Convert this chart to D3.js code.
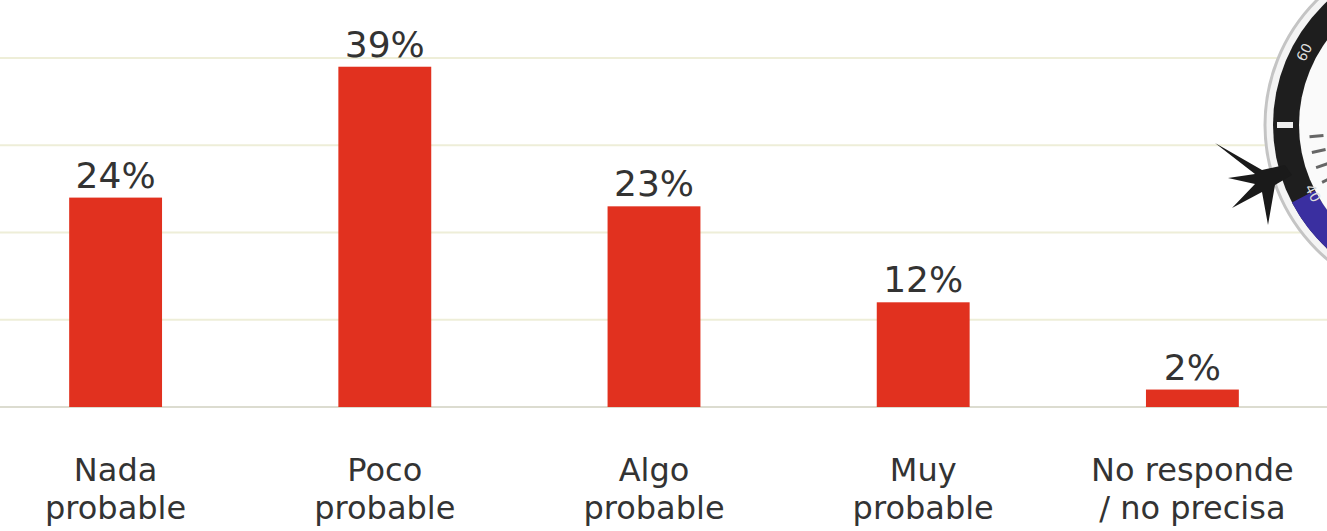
<!DOCTYPE html>
<html>
<head>
<meta charset="utf-8">
<script src="https://cdn.jsdelivr.net/npm/d3@7"></script>
<style>
  html, body { margin: 0; padding: 0; background: #fff; }
  text { font-family: "DejaVu Sans", Verdana, sans-serif; fill: #333; }
</style>
</head>
<body>
<div id="container"></div>
<script>
// Datos
const categories = ['Nada probable', 'Poco probable', 'Algo probable', 'Muy probable', 'No responde / no precisa'];
const categoryLines = [['Nada', 'probable'], ['Poco', 'probable'], ['Algo', 'probable'], ['Muy', 'probable'], ['No responde', '/ no precisa']];
const values = [24, 39, 23, 12, 2];
const gridTicks = [0, 10, 20, 30, 40];

const WIDTH = 1327;
const HEIGHT = 531;

const svg = d3.select('#container')
              .append('svg')
                .attr('width', WIDTH)
                .attr('height', HEIGHT);

const x = d3.scaleBand()
            .domain(categories)
            .range([-19, 1327])
            .paddingInner(0.655)
            .paddingOuter(0.3275);

const y = d3.scaleLinear()
            .domain([0, 40])
            .range([407, 58]);

// líneas de la grilla
svg.append('g')
   .selectAll('line')
   .data(gridTicks)
   .join('line')
     .attr('x1', 0)
     .attr('x2', WIDTH)
     .attr('y1', d => y(d))
     .attr('y2', d => y(d))
     .attr('stroke', d => d === 0 ? '#dcdcd0' : '#eeeed8')
     .attr('stroke-width', 2);

// decoración: reloj / brújula a la derecha
const deco = svg.append('g').attr('transform', 'translate(1441,125)');
deco.append('circle').attr('r', 176).attr('fill', '#f4f4f4').attr('stroke', '#c4c4c4').attr('stroke-width', 3);
deco.append('circle').attr('r', 168).attr('fill', '#1e1e1e');
deco.append('path')
    .attr('d', d3.arc().innerRadius(142).outerRadius(168).startAngle(-2.55).endAngle(-2.05)())
    .attr('fill', '#3a2fa0');
deco.append('circle').attr('r', 142).attr('fill', '#fafafa');
deco.selectAll('line.tick')
    .data(d3.range(-3.1, -1.6, 0.12))
    .join('line')
      .attr('x1', a => Math.sin(a) * 118)
      .attr('y1', a => -Math.cos(a) * 118)
      .attr('x2', a => Math.sin(a) * 132)
      .attr('y2', a => -Math.cos(a) * 132)
      .attr('stroke', '#666')
      .attr('stroke-width', 3);
deco.append('rect').attr('x', -164).attr('y', -3).attr('width', 16).attr('height', 6).attr('fill', '#eee');
deco.append('text').attr('transform', 'rotate(-62) translate(0,-150)')
    .attr('text-anchor', 'middle').attr('font-size', 14).style('fill', '#ddd').text('60');
deco.append('text').attr('transform', 'rotate(-118) translate(0,-150) rotate(180)')
    .attr('text-anchor', 'middle').attr('font-size', 14).style('fill', '#ddd').text('40');

// ave negra
svg.append('path')
   .attr('d', 'M1215,143 L1262,170 L1285,165 L1292,175 L1275,185 L1268,225 L1262,192 L1232,208 L1255,184 L1228,178 L1255,174 Z')
   .attr('fill', '#1a1a1a');

// barras
svg.append('g')
   .selectAll('rect')
   .data(values)
   .join('rect')
     .attr('x', (d, i) => x(categories[i]))
     .attr('y', d => y(d))
     .attr('width', x.bandwidth())
     .attr('height', d => y(0) - y(d))
     .attr('fill', '#e1311f');

// etiquetas de valores
svg.append('g')
   .selectAll('text')
   .data(values)
   .join('text')
     .attr('x', (d, i) => x(categories[i]) + x.bandwidth() / 2)
     .attr('y', d => y(d) - 10)
     .attr('text-anchor', 'middle')
     .attr('font-size', 36)
     .text(d => `${d}%`);

// etiquetas de categorías, dos líneas cada una
const labels = svg.append('g')
   .selectAll('g')
   .data(categoryLines)
   .join('g')
     .attr('transform', (d, i) => `translate(${x(categories[i]) + x.bandwidth() / 2},0)`);

labels.selectAll('text')
   .data(d => d)
   .join('text')
     .attr('y', (d, i) => 481 + i * 38)
     .attr('text-anchor', 'middle')
     .attr('font-size', 32)
     .text(d => d);
</script>
</body>
</html>
